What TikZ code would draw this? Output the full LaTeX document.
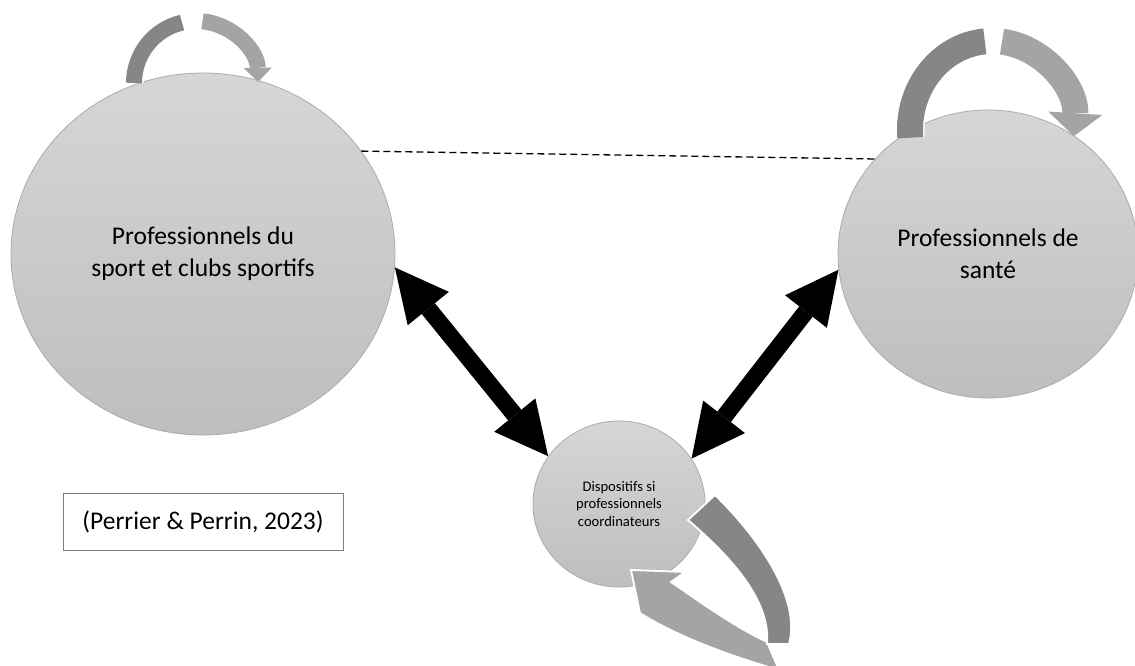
\documentclass[tikz,border=0pt]{standalone}
\usepackage{fontspec}
\setmainfont{Carlito}
\usetikzlibrary{shapes.geometric,arrows.meta}
\definecolor{circtop}{HTML}{D6D6D6}
\definecolor{circbot}{HTML}{BEBEBE}
\definecolor{circline}{HTML}{ABABAB}
\definecolor{darkband}{HTML}{868686}
\definecolor{lightband}{HTML}{A4A4A4}
\definecolor{boxline}{HTML}{808080}
\begin{document}
\begin{tikzpicture}[x=1pt,y=-1pt,
  blob/.style={ellipse, draw=circline, line width=0.8pt, top color=circtop, bottom color=circbot, inner sep=0pt, align=center},
  bigtext/.style={font=\fontsize{25.5}{32}\selectfont},
  smalltext/.style={font=\fontsize{14.6}{17.5}\selectfont},
  dbl/.style={line width=17pt, {Triangle[line width=0pt,length=53pt,width=53pt]}-{Triangle[line width=0pt,length=53pt,width=53pt]}},
  darkloop/.style={darkband, line width=#1, preaction={draw=white, line width=#1+3pt}},
  lightloop/.style={lightband, line width=#1},
  darkshape/.style={fill=darkband, draw=white, line width=1.8pt, line join=miter},
  lightshape/.style={fill=lightband, draw=white, line width=1.8pt, line join=miter}
]
\useasboundingbox (0,0) rectangle (1135,666);

% circles
\node[blob, bigtext, minimum width=384pt, minimum height=362pt] (L) at (203,254) {Professionnels du\\sport et clubs sportifs};
\node[blob, bigtext, minimum width=300pt, minimum height=288pt] (R) at (988,254) {Professionnels de\\santé};
\node[blob, smalltext, minimum width=172pt, minimum height=166pt] (B) at (619,504) {Dispositifs si\\professionnels\\coordinateurs};

% citation box
\node[draw=boxline, line width=0.9pt, minimum width=280pt, minimum height=57pt, inner sep=0pt, bigtext] (C) at (203,521.5) {(Perrier \& Perrin, 2023)};

% dashed link
\draw[line width=1.3pt, dash pattern=on 7pt off 4pt] (L.33) -- (R.140);

% loop arrows, top left
\draw[darkloop=16pt] (134,83) arc[start angle=180, end angle=257, radius=62];
\draw[lightloop=16pt, -{Triangle[line width=0pt,length=14pt,width=28pt]}] (202.5,21.3) arc[start angle=276, end angle=359, radius=62];

% loop arrows, top right
\draw[darkloop=26pt] (910.3,137.8) arc[start angle=175, end angle=265, x radius=82, y radius=89];
\draw[lightloop=26pt, -{Triangle[line width=0pt,length=23pt,width=54pt]}] (1002,41.7) arc[start angle=277, end angle=364, x radius=82, y radius=89];

% loop arrows, bottom
\path[lightshape] (779,670) .. controls (730,656) and (676,636) .. (640,613)
  -- (631,570) -- (685,572) -- (671,582)
  .. controls (700,602) and (735,627) .. (767,642) -- cycle;
\path[darkshape] (715,495) .. controls (761,540) and (801,600) .. (789,644)
  -- (767,644) .. controls (771,600) and (730,556) .. (688,520) -- cycle;

% double arrows
\draw[dbl] (L.-4) -- (B.146);
\draw[dbl] (R.186) -- (B.32);
\end{tikzpicture}
\end{document}
